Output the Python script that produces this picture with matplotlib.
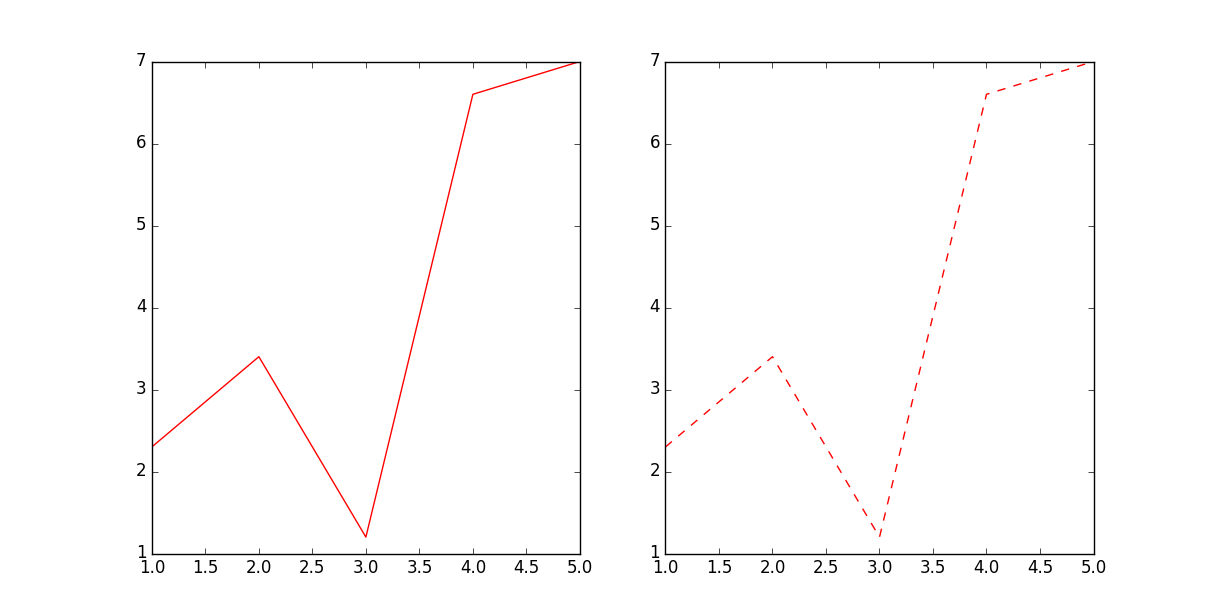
import matplotlib
matplotlib.use("Agg")
import matplotlib.pyplot as plt

plt.style.use('classic')

x = [1, 2, 3, 4, 5]
y = [2.3, 3.4, 1.2, 6.6, 7.0]

fig = plt.figure(figsize=(12.15, 6.15), dpi=100)

ax1 = fig.add_subplot(1, 2, 1)
ax1.plot(x, y, 'r-')

ax2 = fig.add_subplot(1, 2, 2)
ax2.plot(x, y, 'r--')

fig.savefig('out.png', dpi=100)
